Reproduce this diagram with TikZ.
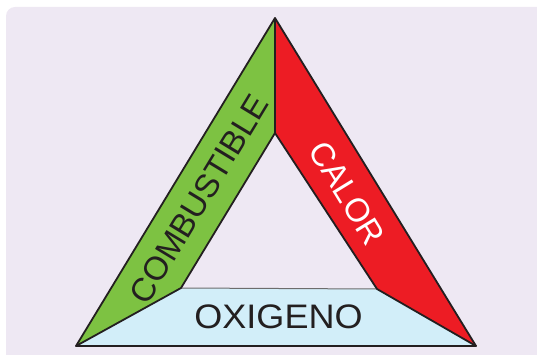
\documentclass[tikz,border=0pt]{standalone}
\usepackage{fontspec}
\setmainfont{Liberation Sans}
\definecolor{bgc}{HTML}{EEE8F3}
\definecolor{grn}{HTML}{7DC242}
\definecolor{rd}{HTML}{ED1C24}
\definecolor{blu}{HTML}{D2EEF9}
\definecolor{ink}{HTML}{231F20}
\tikzset{
  band/.style={draw=ink, line width=1.8pt, line join=round},
  lbl/.style={inner sep=0pt, font=\fontsize{33}{33}\selectfont}
}
\begin{document}
\begin{tikzpicture}[x=1pt,y=-1pt]
\useasboundingbox (0,0) rectangle (537,355);
\fill[bgc, rounded corners=9pt] (6,7) rectangle (560,380);
% bands
\fill[blu] (76,346) -- (476,346) -- (377,289) -- (181,288) -- cycle;
\fill[grn] (76,346) -- (275,18) -- (275,133) -- (181,288) -- cycle;
\fill[rd] (275,18) -- (476,346) -- (377,289) -- (275,133) -- cycle;
\draw[draw=gray!80!ink, line width=1pt] (181,288) -- (377,289);
\draw[band] (76,346) -- (275,18) -- (476,346) -- cycle;
\draw[band] (275,18) -- (275,133) -- (181,288) -- (76,346);
\draw[band] (275,133) -- (377,289) -- (476,346);
% labels
\node[lbl, text=ink, rotate=58.75] (comb) at (199,199) {COMBUSTIBLE};
\node[lbl, text=white, rotate=-58.5] (cal) at (347,193) {CALOR};
\node[lbl, text=ink, xscale=1.06, font=\fontsize{34}{34}\selectfont] (oxi) at (278.5,317) {OXIGENO};
\end{tikzpicture}
\end{document}
